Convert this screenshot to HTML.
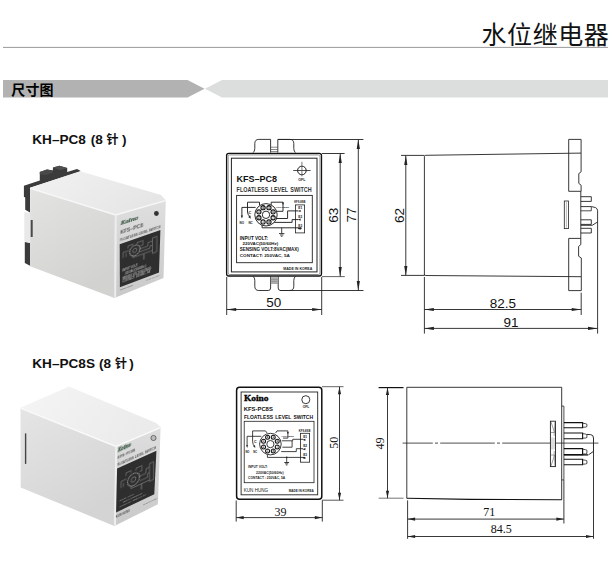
<!DOCTYPE html>
<html lang="zh-CN"><head><meta charset="utf-8"><title>水位继电器 尺寸图</title>
<style>
html,body{margin:0;padding:0;background:#fff;}
body{width:613px;height:562px;overflow:hidden;position:relative;font-family:"Liberation Sans","Noto Sans CJK SC",sans-serif;}
svg{position:absolute;left:0;top:0;display:block;}
</style></head><body>
<svg width="613" height="562" viewBox="0 0 613 562">
<defs>
<filter id="soft" x="-5%" y="-5%" width="110%" height="110%"><feGaussianBlur stdDeviation="0.45"/></filter>
<filter id="soft2" x="-5%" y="-5%" width="110%" height="110%"><feGaussianBlur stdDeviation="0.3"/></filter>
<linearGradient id="gSide1" x1="0" y1="0" x2="0.5" y2="1"><stop offset="0" stop-color="#e3e3e2"/><stop offset="1" stop-color="#d2d2d1"/></linearGradient>
<linearGradient id="gTop1" x1="0" y1="0" x2="1" y2="0.4"><stop offset="0" stop-color="#f2f2f2"/><stop offset="1" stop-color="#e6e6e6"/></linearGradient>
<linearGradient id="gFront1" x1="0" y1="0" x2="0" y2="1"><stop offset="0" stop-color="#dfdfdf"/><stop offset="1" stop-color="#c9c9c9"/></linearGradient>
<linearGradient id="gSide2" x1="0" y1="0" x2="0.5" y2="1"><stop offset="0" stop-color="#e5e5e5"/><stop offset="1" stop-color="#d4d4d4"/></linearGradient>
<linearGradient id="gTop2" x1="0" y1="0" x2="1" y2="0.4"><stop offset="0" stop-color="#f5f5f5"/><stop offset="1" stop-color="#ebebeb"/></linearGradient>
<linearGradient id="gFront2" x1="0" y1="0" x2="0" y2="1"><stop offset="0" stop-color="#dedede"/><stop offset="1" stop-color="#c9c9c9"/></linearGradient>
</defs>

<text x="609.3" y="44.2" font-size="25" text-anchor="end" font-weight="normal" font-family="'Liberation Sans', 'Noto Sans CJK SC', sans-serif" fill="#111" letter-spacing="0.55">水位继电器</text>
<line x1="3" y1="47.4" x2="608" y2="47.4" stroke="#9a9a9a" stroke-width="1" />
<polygon points="3,80 187.5,80 204.5,88.8 187.5,97.6 3,97.6" fill="#b2b2b2"/>
<polygon points="205,88.8 222,80 608,80 608,97.6 222,97.6" fill="#dcdddd"/>
<text x="11.2" y="94.8" font-size="14" text-anchor="start" font-weight="bold" font-family="'Liberation Sans', 'Noto Sans CJK SC', sans-serif" fill="#000" letter-spacing="0.2">尺寸图</text>
<text x="32.3" y="143.8" font-size="13.6" text-anchor="start" font-weight="bold" font-family="'Liberation Sans', 'Noto Sans CJK SC', sans-serif" fill="#111" >KH–PC8<tspan dx="1"> (8</tspan><tspan dx="3.8" font-size="12">针</tspan><tspan dx="3.4">)</tspan></text>
<text x="32.3" y="368" font-size="13.6" text-anchor="start" font-weight="bold" font-family="'Liberation Sans', 'Noto Sans CJK SC', sans-serif" fill="#111" >KH–PC8S<tspan dx="0.2"> (8</tspan><tspan dx="4" font-size="12">针</tspan><tspan dx="2.2">)</tspan></text>
<g filter="url(#soft)">
<polygon points="23.9,185.7 39.8,180.5 39.8,172 47,169.6 52.9,170.4 52.9,167.4 59.4,165.7 67.2,168 67.2,172 77,169.1 80.3,170.7 80.3,171.6 30,187.8 30,212.4 25.2,209.8 25.2,197.4 23.9,196.8" fill="#3b3b3b"/>
<polygon points="39.8,172 47,169.6 52.9,170.4 52.9,172.6 46,175 39.8,174.4" fill="#4a4a4a"/>
<polygon points="52.9,167.4 59.4,165.7 67.2,168 60.5,170.3" fill="#505050"/>
<polygon points="24.8,241.9 30.1,243 30.1,265.8 24.8,263" fill="#3b3b3b"/>
<polygon points="24.3,212 30.1,213 30.1,243 24.3,241.5" fill="#e9e9e9"/>
<polygon points="30,187.8 80,171.2 161,195 165.8,200.3 115,214.6" fill="url(#gTop1)"/>
<polygon points="30.1,188 115,214.6 114.4,298 30.1,266.3" fill="url(#gSide1)"/>
<polygon points="115,214.6 165.8,200.3 163.5,278 114.4,298" fill="url(#gFront1)"/>
<polyline points="30.1,188.3 115.6,215 165.6,200.7" fill="none" stroke="#f7f7f7" stroke-width="1.4"/>
<line x1="115.8" y1="215" x2="115.2" y2="297.6" stroke="#ececec" stroke-width="2" />
<rect x="30.7" y="220" width="2" height="17" fill="#4a4a4a"/>
<polygon points="119.7,244.2 160.4,230 159,272.6 119.9,287.3" fill="#2e2e2e"/>
<circle cx="156.4" cy="213.5" r="2.4" fill="#333"/>
</g>
<g transform="matrix(1,-0.33,0,1,0,0)" filter="url(#soft2)">
<text x="120.6" y="265.2" font-size="6.6" text-anchor="start" font-weight="bold" font-family="'Liberation Serif', serif" fill="#3f5a48" font-style="italic" stroke="#3f5a48" stroke-width="0.25" textLength="17.5" lengthAdjust="spacingAndGlyphs">Koino</text>
<text x="120.4" y="273.7" font-size="5" text-anchor="start" font-weight="bold" font-family="'Liberation Sans', sans-serif" fill="#555" textLength="22.6" lengthAdjust="spacingAndGlyphs">KFS–PC8</text>
<text x="120.1" y="281.5" font-size="3.3" text-anchor="start" font-weight="bold" font-family="'Liberation Sans', sans-serif" fill="#555" textLength="40.5" lengthAdjust="spacingAndGlyphs">FLOATLESS LEVEL SWITCH</text>
</g>
<g transform="matrix(1,-0.37,0,1,0,0)" filter="url(#soft2)">
<text x="122.3" y="317.5" font-size="2.6" text-anchor="start" font-weight="bold" font-family="'Liberation Sans', sans-serif" fill="#a8a8a8" >INPUT VOLT:</text>
<text x="125" y="321.1" font-size="2.6" text-anchor="start" font-weight="bold" font-family="'Liberation Sans', sans-serif" fill="#a8a8a8" >220VAC(50/60Hz)</text>
<text x="122.3" y="324.7" font-size="2.6" text-anchor="start" font-weight="bold" font-family="'Liberation Sans', sans-serif" fill="#a8a8a8" textLength="29" lengthAdjust="spacingAndGlyphs">SENSING VOLT:8VAC(MAX)</text>
<text x="122.3" y="328.3" font-size="2.6" text-anchor="start" font-weight="bold" font-family="'Liberation Sans', sans-serif" fill="#a8a8a8" >CONTACT: 250VAC, 5A</text>
<text x="146.4" y="334.8" font-size="1.7" text-anchor="start" font-weight="bold" font-family="'Liberation Sans', sans-serif" fill="#777" >MADE IN KOREA</text>
<text x="120.3" y="335.1" font-size="2.4" text-anchor="start" font-weight="bold" font-family="'Liberation Sans', sans-serif" fill="#555" >KUN HUNG</text>
<circle cx="134.8" cy="300.3" r="5.1" fill="none" stroke="#a5a5a5" stroke-width="1" stroke-dasharray="1.3,0.7"/>
<circle cx="134.8" cy="300.3" r="2" fill="none" stroke="#999" stroke-width="0.6"/>
<polyline points="123,303.5 123,298.0 129,298.2" fill="none" stroke="#999" stroke-width="0.5"/>
<polyline points="126,303.6 126,299.6" fill="none" stroke="#999" stroke-width="0.5"/>
<polyline points="128,295.9 128,293.4 133,293.4 133,294.8" fill="none" stroke="#999" stroke-width="0.5"/>
<polyline points="137,295.2 137,293.3 143,293.4 143,297.9 140,297.8" fill="none" stroke="#999" stroke-width="0.5"/>
<polyline points="140,300.8 148,300.8 148,297.3 152.4,297.4" fill="none" stroke="#999" stroke-width="0.5"/>
<polyline points="139.5,303.6 150,303.7 150,301.5 152.4,301.6" fill="none" stroke="#999" stroke-width="0.5"/>
<polyline points="133,304.7 133,306.8 152.4,306.9" fill="none" stroke="#999" stroke-width="0.5"/>
<polyline points="143.9,307.2 143.9,312.7" fill="none" stroke="#aaa" stroke-width="0.6"/>
<polyline points="152.4,294.4 156.8,294.4 156.8,309.8 152.4,309.8 152.4,294.4" fill="none" stroke="#999" stroke-width="0.5"/>
</g>
<g filter="url(#soft)">
<polygon points="20.5,407.8 69,386.5 156.2,423 160.6,427.1 115.6,445.9" fill="url(#gTop2)"/>
<polygon points="20.5,407.8 115.6,445.9 114.3,526 20.7,487.4" fill="url(#gSide2)"/>
<polygon points="115.6,445.9 160.6,427.1 157.9,504.3 114.3,526" fill="url(#gFront2)"/>
<polyline points="20.5,408.1 116,446.4 160.4,427.7" fill="none" stroke="#fafafa" stroke-width="1.4"/>
<line x1="116.2" y1="446.5" x2="115" y2="525.2" stroke="#eeeeee" stroke-width="2" />
<rect x="24.9" y="433.4" width="1.4" height="30.5" fill="#444"/>
<polygon points="117.1,468.5 156.4,450.7 154.3,494.3 116.1,512.4" fill="#2e2e2e"/>
<circle cx="153.5" cy="438" r="2.6" fill="#bbb" stroke="#555" stroke-width="0.8"/>
</g>
<g transform="matrix(1,-0.45,0,1,0,0)" filter="url(#soft2)">
<text x="117.9" y="505.4" font-size="5.2" text-anchor="start" font-weight="bold" font-family="'Liberation Serif', serif" fill="#3f5a48" font-style="italic" stroke="#3f5a48" stroke-width="0.25" textLength="13" lengthAdjust="spacingAndGlyphs">Koino</text>
<text x="117.6" y="512.4" font-size="4" text-anchor="start" font-weight="bold" font-family="'Liberation Sans', sans-serif" fill="#555" textLength="17.6" lengthAdjust="spacingAndGlyphs">KFS–PC8S</text>
<text x="117.3" y="519.1" font-size="3" text-anchor="start" font-weight="bold" font-family="'Liberation Sans', sans-serif" fill="#555" textLength="38.6" lengthAdjust="spacingAndGlyphs">FLOATLESS LEVEL SWITCH</text>
</g>
<g transform="matrix(1,-0.465,0,1,0,0)" filter="url(#soft2)">
<text x="119.5" y="556.6" font-size="2.4" text-anchor="start" font-weight="bold" font-family="'Liberation Sans', sans-serif" fill="#a0a0a0" >INPUT VOLT:</text>
<text x="123" y="560.0" font-size="2.4" text-anchor="start" font-weight="bold" font-family="'Liberation Sans', sans-serif" fill="#a0a0a0" >220VAC(50/60Hz)</text>
<text x="119.5" y="563.4" font-size="2.4" text-anchor="start" font-weight="bold" font-family="'Liberation Sans', sans-serif" fill="#a0a0a0" >CONTACT : 250VAC, 5A</text>
<text x="143.2" y="572.2" font-size="1.8" text-anchor="start" font-weight="bold" font-family="'Liberation Sans', sans-serif" fill="#666" >MADE IN KOREA</text>
<text x="115.9" y="572.2" font-size="2.6" text-anchor="start" font-weight="bold" font-family="'Liberation Sans', sans-serif" fill="#555" >KUN HUNG</text>
<circle cx="133.5" cy="541.6" r="6" fill="none" stroke="#a5a5a5" stroke-width="1" stroke-dasharray="1.3,0.7"/>
<circle cx="133.5" cy="541.6" r="2.4" fill="none" stroke="#999" stroke-width="0.6"/>
<polyline points="121,544.3 121,537.8 126.5,537.8" fill="none" stroke="#999" stroke-width="0.5"/>
<polyline points="123.5,544.4 123.5,540.4" fill="none" stroke="#999" stroke-width="0.5"/>
<polyline points="126,534.6 126,531.6 131,531.6 131,533.5" fill="none" stroke="#999" stroke-width="0.5"/>
<polyline points="136,533.7 136,531.6 142,531.6 142,536.5 139.5,536.5" fill="none" stroke="#999" stroke-width="0.5"/>
<polyline points="140,541.1 146,541.1 146,536.7 149.5,536.7" fill="none" stroke="#999" stroke-width="0.5"/>
<polyline points="139.5,545.9 147.5,545.9 147.5,542.1 149.5,542.1" fill="none" stroke="#999" stroke-width="0.5"/>
<polyline points="131,547.4 131,549.5 149.5,549.5" fill="none" stroke="#999" stroke-width="0.5"/>
<polyline points="141.5,549.5 141.5,555.3" fill="none" stroke="#aaa" stroke-width="0.6"/>
<polyline points="149.5,533.1 153.6,533.1 153.6,550.9 149.5,550.9 149.5,533.1" fill="none" stroke="#999" stroke-width="0.5"/>
</g>
<g id="d1">
<path d="M253.2,152.6 Q254.7,151.4 254.8,148.5 L254.8,143.6 Q254.8,139.4 258.8,139.4 L270.6,139.4 L270.6,152.6" fill="none" stroke="#222" stroke-width="0.9"/>
<path d="M277.8,152.6 L277.8,139.4 L289.8,139.4 Q293.8,139.4 293.8,143.6 L293.8,148.5 Q293.9,151.4 295.4,152.6" fill="none" stroke="#222" stroke-width="0.9"/>
<line x1="270.6" y1="147.2" x2="277.8" y2="147.2" stroke="#555" stroke-width="0.7" />
<line x1="270.6" y1="149.5" x2="277.8" y2="149.5" stroke="#555" stroke-width="0.7" />
<line x1="270.6" y1="151.6" x2="277.8" y2="151.6" stroke="#555" stroke-width="0.7" />
<line x1="278" y1="139.5" x2="363.4" y2="139.5" stroke="#222" stroke-width="0.9" />
<path d="M253.2,276.5 Q254.7,277.6 254.8,280.4 L254.8,286.2 Q254.8,290.5 258.8,290.5 L268.2,290.5 Q270.6,290.5 270.6,288 L270.6,276.5" fill="none" stroke="#222" stroke-width="0.9"/>
<path d="M278.2,276.5 L278.2,288 Q278.2,290.5 280.6,290.5 L289.8,290.5 Q293.8,290.5 293.8,286.2 L293.8,280.4 Q293.9,277.6 295.4,276.5" fill="none" stroke="#222" stroke-width="0.9"/>
<rect x="270.9" y="277" width="7" height="6.5" fill="#b5b5b5"/>
<line x1="270.6" y1="279.3" x2="278.2" y2="279.3" stroke="#777" stroke-width="0.6" />
<line x1="270.6" y1="281.3" x2="278.2" y2="281.3" stroke="#777" stroke-width="0.6" />
<line x1="270.6" y1="283.3" x2="278.2" y2="283.3" stroke="#777" stroke-width="0.6" />
<line x1="280" y1="290.5" x2="363.5" y2="290.5" stroke="#222" stroke-width="0.9" />
<rect x="226.6" y="153.4" width="94.9" height="122.6" rx="2.2" ry="2.2" fill="#fff" stroke="#111" stroke-width="1.3"/>
<rect x="228.1" y="154.9" width="91.9" height="119.6" rx="1.5" ry="1.5" fill="none" stroke="#8a8a8a" stroke-width="1"/>
<rect x="231.4" y="158.2" width="85.6" height="113.7" fill="none" stroke="#222" stroke-width="1"/>
<circle cx="301.9" cy="170.5" r="4.3" fill="none" stroke="#111" stroke-width="0.95"/>
<line x1="293.2" y1="170.5" x2="310.6" y2="170.5" stroke="#222" stroke-width="0.8" />
<line x1="301.9" y1="161.8" x2="301.9" y2="176.4" stroke="#555" stroke-width="0.8" />
<text x="301.9" y="181.1" font-size="3.6" text-anchor="middle" font-weight="bold" font-family="'Liberation Sans', sans-serif" fill="#222" >OFL</text>
<text x="236.4" y="182" font-size="9.4" text-anchor="start" font-weight="bold" font-family="'Liberation Sans', sans-serif" fill="#111" textLength="40.5" lengthAdjust="spacingAndGlyphs">KFS–PC8</text>
<text x="236.6" y="192.3" font-size="6.4" text-anchor="start" font-weight="bold" font-family="'Liberation Sans', sans-serif" fill="#333" textLength="75" lengthAdjust="spacingAndGlyphs" word-spacing="1">FLOATLESS LEVEL SWITCH</text>
<rect x="236.6" y="195.4" width="75.7" height="67.3" fill="none" stroke="#222" stroke-width="0.9"/>
<polyline points="247.5,212 247.5,202.2 259.5,202.2 259.5,205.6" fill="none" stroke="#222" stroke-width="0.95"/>
<polyline points="271.2,205.6 271.2,202.2 283,202.2 283,211.3 276.5,211.3" fill="none" stroke="#222" stroke-width="0.95"/>
<polyline points="255.6,207.4 241.9,207.4 241.9,216.5" fill="none" stroke="#222" stroke-width="0.95"/>
<path d="M247.5,212 Q247.8,215 250,216.8" fill="none" stroke="#222" stroke-width="0.95"/>
<polygon points="241.9,218.6 240.8,215.6 243.0,215.6" fill="#222"/>
<polygon points="250.8,218.8 248.2,216.9 250.3,215.6" fill="#222"/>
<text x="249.9" y="213.8" font-size="3.8" text-anchor="middle" font-weight="bold" font-family="'Liberation Sans', sans-serif" fill="#111" >C</text>
<text x="241.8" y="223.6" font-size="3" text-anchor="middle" font-weight="bold" font-family="'Liberation Sans', sans-serif" fill="#111" >NO</text>
<text x="250.6" y="223.6" font-size="3" text-anchor="middle" font-weight="bold" font-family="'Liberation Sans', sans-serif" fill="#111" >NC</text>
<text x="282.3" y="208.2" font-size="2.5" text-anchor="middle" font-weight="bold" font-family="'Liberation Sans', sans-serif" fill="#111" >AC/POWER</text>
<polygon points="283.0,205.0 282.0,202.6 284.0,202.6" fill="#222"/>
<rect x="295.5" y="204.9" width="9.1" height="28" fill="none" stroke="#222" stroke-width="0.8"/>
<text x="299.8" y="202.9" font-size="2.6" text-anchor="middle" font-weight="bold" font-family="'Liberation Sans', sans-serif" fill="#111" >KFS-8SB</text>
<text x="300.3" y="209.20000000000002" font-size="3.2" text-anchor="middle" font-weight="bold" font-family="'Liberation Sans', sans-serif" fill="#111" >E1</text>
<polygon points="297.6,211.0 300.6,209.9 300.6,212.1" fill="#222"/>
<text x="300.3" y="217.8" font-size="3.2" text-anchor="middle" font-weight="bold" font-family="'Liberation Sans', sans-serif" fill="#111" >E2</text>
<polygon points="297.6,219.6 300.6,218.5 300.6,220.7" fill="#222"/>
<text x="300.3" y="226.8" font-size="3.2" text-anchor="middle" font-weight="bold" font-family="'Liberation Sans', sans-serif" fill="#111" >E3</text>
<polygon points="297.6,228.6 300.6,227.5 300.6,229.7" fill="#222"/>
<polyline points="275.2,218.5 287.6,218.5 287.6,210.9 298,210.9" fill="none" stroke="#222" stroke-width="0.95"/>
<polyline points="273.9,222.4 292.1,222.4 292.1,219.6 298,219.6" fill="none" stroke="#222" stroke-width="0.95"/>
<polyline points="262.1,224.4 262.1,227.8 301.3,227.8 301.3,228.6 298,228.6" fill="none" stroke="#222" stroke-width="0.95"/>
<line x1="281.7" y1="227.8" x2="281.7" y2="233.6" stroke="#222" stroke-width="0.85" />
<line x1="279" y1="233.6" x2="284.4" y2="233.6" stroke="#222" stroke-width="0.9" />
<line x1="280" y1="235" x2="283.4" y2="235" stroke="#222" stroke-width="0.8" />
<line x1="280.9" y1="236.3" x2="282.5" y2="236.3" stroke="#222" stroke-width="0.8" />
<circle cx="266" cy="214.8" r="11.2" fill="#fff" stroke="#222" stroke-width="0.95"/>
<circle cx="266" cy="214.8" r="3.7" fill="none" stroke="#222" stroke-width="0.95"/>
<circle cx="273.11" cy="217.75" r="2.1" fill="none" stroke="#111" stroke-width="1.09"/>
<circle cx="268.95" cy="221.91" r="2.1" fill="none" stroke="#111" stroke-width="1.09"/>
<circle cx="263.05" cy="221.91" r="2.1" fill="none" stroke="#111" stroke-width="1.09"/>
<circle cx="258.89" cy="217.75" r="2.1" fill="none" stroke="#111" stroke-width="1.09"/>
<circle cx="258.89" cy="211.85" r="2.1" fill="none" stroke="#111" stroke-width="1.09"/>
<circle cx="263.05" cy="207.69" r="2.1" fill="none" stroke="#111" stroke-width="1.09"/>
<circle cx="268.95" cy="207.69" r="2.1" fill="none" stroke="#111" stroke-width="1.09"/>
<circle cx="273.11" cy="211.85" r="2.1" fill="none" stroke="#111" stroke-width="1.09"/>
<text x="273.11" y="218.75" font-size="2.8" text-anchor="middle" font-weight="bold" font-family="'Liberation Sans', sans-serif" fill="#111" >7</text>
<text x="268.95" y="222.91" font-size="2.8" text-anchor="middle" font-weight="bold" font-family="'Liberation Sans', sans-serif" fill="#111" >8</text>
<text x="263.05" y="222.91" font-size="2.8" text-anchor="middle" font-weight="bold" font-family="'Liberation Sans', sans-serif" fill="#111" >1</text>
<text x="258.89" y="218.75" font-size="2.8" text-anchor="middle" font-weight="bold" font-family="'Liberation Sans', sans-serif" fill="#111" >2</text>
<text x="258.89" y="212.85" font-size="2.8" text-anchor="middle" font-weight="bold" font-family="'Liberation Sans', sans-serif" fill="#111" >3</text>
<text x="263.05" y="208.69" font-size="2.8" text-anchor="middle" font-weight="bold" font-family="'Liberation Sans', sans-serif" fill="#111" >4</text>
<text x="268.95" y="208.69" font-size="2.8" text-anchor="middle" font-weight="bold" font-family="'Liberation Sans', sans-serif" fill="#111" >5</text>
<text x="273.11" y="212.85" font-size="2.8" text-anchor="middle" font-weight="bold" font-family="'Liberation Sans', sans-serif" fill="#111" >6</text>
<text x="239.8" y="240.4" font-size="4.6" text-anchor="start" font-weight="bold" font-family="'Liberation Sans', sans-serif" fill="#111" textLength="28.3" lengthAdjust="spacingAndGlyphs">INPUT VOLT:</text>
<text x="242.6" y="245" font-size="4.3" text-anchor="start" font-weight="bold" font-family="'Liberation Sans', sans-serif" fill="#111" textLength="35.6" lengthAdjust="spacingAndGlyphs">220VAC(50/60Hz)</text>
<text x="239.8" y="250.9" font-size="4.5" text-anchor="start" font-weight="bold" font-family="'Liberation Sans', sans-serif" fill="#111" textLength="59" lengthAdjust="spacingAndGlyphs">SENSING VOLT:8VAC(MAX)</text>
<text x="239.8" y="257.4" font-size="4.4" text-anchor="start" font-weight="bold" font-family="'Liberation Sans', sans-serif" fill="#222" textLength="50" lengthAdjust="spacingAndGlyphs">CONTACT: 250VAC, 5A</text>
<text x="283.3" y="270.3" font-size="3.7" text-anchor="start" font-weight="bold" font-family="'Liberation Sans', sans-serif" fill="#222" textLength="29" lengthAdjust="spacingAndGlyphs">MADE IN KOREA</text>
<line x1="322" y1="153.5" x2="344.6" y2="153.5" stroke="#222" stroke-width="0.9" />
<line x1="322" y1="276.6" x2="344.8" y2="276.6" stroke="#555" stroke-width="0.9" />
<line x1="340.2" y1="153.5" x2="340.2" y2="276.6" stroke="#222" stroke-width="0.9" />
<polygon points="340.2,153.5 338.6,163.0 341.8,163.0" fill="#222"/>
<polygon points="340.2,276.6 338.6,267.1 341.8,267.1" fill="#222"/>
<line x1="358.3" y1="139.6" x2="358.3" y2="290.5" stroke="#222" stroke-width="0.9" />
<polygon points="358.3,139.6 356.7,149.1 359.9,149.1" fill="#222"/>
<polygon points="358.3,290.5 356.7,281.0 359.9,281.0" fill="#222"/>
<text transform="translate(338.4,215.3) rotate(-90)" font-size="13.5" text-anchor="middle" font-family="'Liberation Sans', sans-serif" fill="#111">63</text>
<text transform="translate(356.2,215) rotate(-90)" font-size="13.5" text-anchor="middle" font-family="'Liberation Sans', sans-serif" fill="#111">77</text>
<line x1="226.7" y1="277" x2="226.7" y2="315" stroke="#222" stroke-width="0.9" />
<line x1="321.7" y1="277" x2="321.7" y2="315" stroke="#222" stroke-width="0.9" />
<line x1="226.7" y1="309.5" x2="321.7" y2="309.5" stroke="#222" stroke-width="0.9" />
<polygon points="226.7,309.5 236.2,307.9 236.2,311.1" fill="#222"/>
<polygon points="321.7,309.5 312.2,307.9 312.2,311.1" fill="#222"/>
<text x="273.8" y="307.4" font-size="13.5" text-anchor="middle" font-weight="normal" font-family="'Liberation Sans', sans-serif" fill="#111" >50</text>
</g>
<g id="d2">
<line x1="401" y1="155.4" x2="424.4" y2="155.4" stroke="#222" stroke-width="0.9" />
<line x1="401" y1="275.4" x2="424.4" y2="275.4" stroke="#222" stroke-width="0.9" />
<line x1="405.8" y1="155.4" x2="405.8" y2="275.4" stroke="#222" stroke-width="0.9" />
<polygon points="405.8,155.4 404.2,164.9 407.4,164.9" fill="#222"/>
<polygon points="405.8,275.4 404.2,265.9 407.4,265.9" fill="#222"/>
<text transform="translate(403.5,215.6) rotate(-90)" font-size="13.5" text-anchor="middle" font-family="'Liberation Sans', sans-serif" fill="#111">62</text>
<path d="M424.4,275.4 L424.4,156.6 Q424.4,155.4 425.8,155.3 L581,153.1" fill="none" stroke="#222" stroke-width="0.9"/>
<path d="M424.4,274.4 Q424.4,275.5 425.8,275.5 L581,276.7" fill="none" stroke="#222" stroke-width="0.9"/>
<path d="M568.7,191.3 L568.7,139.4 L581.1,139.4 L581.1,171.8 L578.8,173.6 L578.8,183.4 L581.1,185.2 L581.1,191.3 L568.7,191.3" fill="none" stroke="#222" stroke-width="0.9"/>
<path d="M580.8,238.4 L568.7,238.4 L568.7,290.6 L581.3,290.6 L581.3,258 L578.6,256.2 L578.6,246.4 L580.8,244.6 L580.8,191.3" fill="none" stroke="#222" stroke-width="0.9"/>
<rect x="564.3" y="201" width="4.2" height="27.6" fill="#fff" stroke="#222" stroke-width="0.8"/>
<line x1="566.4" y1="202" x2="566.4" y2="227.6" stroke="#777" stroke-width="0.5" />
<path d="M580.8,196.7 L591.3,196.7 L591.3,201.4 L580.8,201.4" fill="none" stroke="#222" stroke-width="0.9"/>
<path d="M580.8,219.8 L591.3,219.8 L591.3,224.4 L580.8,224.4" fill="none" stroke="#222" stroke-width="0.9"/>
<path d="M580.8,228.3 L591.3,228.3 L591.3,233 L580.8,233" fill="none" stroke="#222" stroke-width="0.9"/>
<path d="M580.8,206.6 L591.6,206.6 L595.6,207.6 Q597.6,208.6 597.6,210.8 L597.6,222 L592.2,225.3 L580.8,225.3" fill="none" stroke="#222" stroke-width="0.9"/>
<path d="M580.8,210.8 L591.3,210.8 L591.3,206.7" fill="none" stroke="#222" stroke-width="0.8"/>
<line x1="597.6" y1="222" x2="597.6" y2="333.6" stroke="#222" stroke-width="0.9" />
<line x1="424.4" y1="277" x2="424.4" y2="333.6" stroke="#222" stroke-width="0.9" />
<line x1="581.2" y1="292.7" x2="581.2" y2="315" stroke="#222" stroke-width="0.9" />
<line x1="424.4" y1="309.5" x2="581.2" y2="309.5" stroke="#222" stroke-width="0.9" />
<polygon points="424.4,309.5 433.9,307.9 433.9,311.1" fill="#222"/>
<polygon points="581.2,309.5 571.7,307.9 571.7,311.1" fill="#222"/>
<line x1="424.4" y1="328.4" x2="597.5" y2="328.4" stroke="#222" stroke-width="0.9" />
<polygon points="424.4,328.4 433.9,326.8 433.9,330.0" fill="#222"/>
<polygon points="597.5,328.4 588.0,326.8 588.0,330.0" fill="#222"/>
<text x="502.8" y="307.5" font-size="13.5" text-anchor="middle" font-weight="normal" font-family="'Liberation Sans', sans-serif" fill="#111" >82.5</text>
<text x="511" y="326.9" font-size="13.5" text-anchor="middle" font-weight="normal" font-family="'Liberation Sans', sans-serif" fill="#111" >91</text>
</g>
<g id="d3">
<rect x="236.6" y="387.2" width="85.2" height="112" rx="3" ry="3" fill="#fff" stroke="#111" stroke-width="1.5"/>
<rect x="241.1" y="392" width="76.6" height="102.8" fill="none" stroke="#222" stroke-width="0.9"/>
<text x="244" y="401.4" font-size="8.6" text-anchor="start" font-weight="bold" font-family="'Liberation Serif', serif" fill="#000" textLength="24.5" lengthAdjust="spacingAndGlyphs" stroke="#000" stroke-width="0.35">Koino</text>
<circle cx="305.8" cy="399.7" r="4" fill="none" stroke="#222" stroke-width="0.9"/>
<text x="306" y="407.8" font-size="3.3" text-anchor="middle" font-weight="bold" font-family="'Liberation Sans', sans-serif" fill="#222" >OFL</text>
<text x="243.8" y="410.5" font-size="6" text-anchor="start" font-weight="bold" font-family="'Liberation Sans', sans-serif" fill="#111" textLength="29" lengthAdjust="spacingAndGlyphs">KFS-PC8S</text>
<text x="244" y="418.6" font-size="5" text-anchor="start" font-weight="bold" font-family="'Liberation Sans', sans-serif" fill="#111" textLength="69" lengthAdjust="spacingAndGlyphs" word-spacing="1">FLOATLESS LEVEL SWITCH</text>
<rect x="244.2" y="421.3" width="69.8" height="61.4" fill="none" stroke="#222" stroke-width="0.8"/>
<polyline points="252.6,441.7 252.6,430.9 265.5,430.9 267.1,433.0" fill="none" stroke="#222" stroke-width="0.85"/>
<polyline points="275.6,433.0 277.0,430.9 287.9,430.9 287.9,438.1 283.0,438.1" fill="none" stroke="#222" stroke-width="0.85"/>
<polyline points="261.3,436.3 247.1,436.3 247.1,446.0" fill="none" stroke="#222" stroke-width="0.85"/>
<path d="M252.6,441.7 Q252.9,444.7 254.3,446.3" fill="none" stroke="#222" stroke-width="0.85"/>
<polygon points="247.1,448.0 246.1,445.2 248.1,445.2" fill="#222"/>
<polygon points="255.3,448.0 253.2,446.3 255.0,445.1" fill="#222"/>
<text x="255.3" y="443.3" font-size="3.6" text-anchor="middle" font-weight="bold" font-family="'Liberation Sans', sans-serif" fill="#111" >C</text>
<text x="247.4" y="452.8" font-size="2.7" text-anchor="middle" font-weight="bold" font-family="'Liberation Sans', sans-serif" fill="#111" >NO</text>
<text x="255.3" y="452.8" font-size="2.7" text-anchor="middle" font-weight="bold" font-family="'Liberation Sans', sans-serif" fill="#111" >NC</text>
<text x="287.6" y="436.7" font-size="2.3" text-anchor="middle" font-weight="bold" font-family="'Liberation Sans', sans-serif" fill="#111" >AC/POWER</text>
<polygon points="287.9,434.2 287.0,431.9 288.8,431.9" fill="#222"/>
<rect x="300.5" y="433.3" width="9.1" height="28.9" fill="none" stroke="#222" stroke-width="0.8"/>
<text x="304.6" y="431.8" font-size="2.7" text-anchor="middle" font-weight="bold" font-family="'Liberation Sans', sans-serif" fill="#111" >KFS-8SB</text>
<text x="305.2" y="438.0" font-size="3.2" text-anchor="middle" font-weight="bold" font-family="'Liberation Sans', sans-serif" fill="#111" >E1</text>
<polygon points="302.4,439.8 305.4,438.7 305.4,440.9" fill="#222"/>
<text x="305.2" y="447.40000000000003" font-size="3.2" text-anchor="middle" font-weight="bold" font-family="'Liberation Sans', sans-serif" fill="#111" >E2</text>
<polygon points="302.4,449.20000000000005 305.4,448.1 305.4,450.3" fill="#222"/>
<text x="305.2" y="456.2" font-size="3.2" text-anchor="middle" font-weight="bold" font-family="'Liberation Sans', sans-serif" fill="#111" >E3</text>
<polygon points="302.4,458.0 305.4,456.9 305.4,459.09999999999997" fill="#222"/>
<polyline points="281.8,440.8 292.7,440.8 292.7,439.3 303.0,439.3" fill="none" stroke="#222" stroke-width="0.85"/>
<polyline points="281.2,451.6 296.3,451.6 296.3,448.7 303.0,448.7" fill="none" stroke="#222" stroke-width="0.85"/>
<polyline points="282.4,447.2 292.1,447.2 292.1,440.8" fill="none" stroke="#222" stroke-width="0.85"/>
<polyline points="267.4,455.0 267.4,457.4 304.8,457.4 304.8,457.7 303.0,457.7" fill="none" stroke="#222" stroke-width="0.85"/>
<line x1="286.7" y1="457.4" x2="286.7" y2="462.5" stroke="#222" stroke-width="0.8" />
<circle cx="286.7" cy="457.4" r="0.8" fill="#222"/>
<line x1="284.3" y1="462.5" x2="289.1" y2="462.5" stroke="#222" stroke-width="0.9" />
<line x1="285.1" y1="463.8" x2="288.2" y2="463.8" stroke="#222" stroke-width="0.8" />
<line x1="285.9" y1="465.0" x2="287.4" y2="465.0" stroke="#222" stroke-width="0.8" />
<circle cx="270.4" cy="444.1" r="10.8" fill="#fff" stroke="#222" stroke-width="0.9"/>
<circle cx="270.4" cy="444.1" r="3.6" fill="none" stroke="#222" stroke-width="0.9"/>
<circle cx="277.24" cy="446.93" r="2.0" fill="none" stroke="#111" stroke-width="1.03"/>
<circle cx="273.23" cy="450.94" r="2.0" fill="none" stroke="#111" stroke-width="1.03"/>
<circle cx="267.57" cy="450.94" r="2.0" fill="none" stroke="#111" stroke-width="1.03"/>
<circle cx="263.56" cy="446.93" r="2.0" fill="none" stroke="#111" stroke-width="1.03"/>
<circle cx="263.56" cy="441.27" r="2.0" fill="none" stroke="#111" stroke-width="1.03"/>
<circle cx="267.57" cy="437.26" r="2.0" fill="none" stroke="#111" stroke-width="1.03"/>
<circle cx="273.23" cy="437.26" r="2.0" fill="none" stroke="#111" stroke-width="1.03"/>
<circle cx="277.24" cy="441.27" r="2.0" fill="none" stroke="#111" stroke-width="1.03"/>
<text x="277.24" y="447.83" font-size="2.6" text-anchor="middle" font-weight="bold" font-family="'Liberation Sans', sans-serif" fill="#111" >7</text>
<text x="273.23" y="451.84" font-size="2.6" text-anchor="middle" font-weight="bold" font-family="'Liberation Sans', sans-serif" fill="#111" >8</text>
<text x="267.57" y="451.84" font-size="2.6" text-anchor="middle" font-weight="bold" font-family="'Liberation Sans', sans-serif" fill="#111" >1</text>
<text x="263.56" y="447.83" font-size="2.6" text-anchor="middle" font-weight="bold" font-family="'Liberation Sans', sans-serif" fill="#111" >2</text>
<text x="263.56" y="442.17" font-size="2.6" text-anchor="middle" font-weight="bold" font-family="'Liberation Sans', sans-serif" fill="#111" >3</text>
<text x="267.57" y="438.16" font-size="2.6" text-anchor="middle" font-weight="bold" font-family="'Liberation Sans', sans-serif" fill="#111" >4</text>
<text x="273.23" y="438.16" font-size="2.6" text-anchor="middle" font-weight="bold" font-family="'Liberation Sans', sans-serif" fill="#111" >5</text>
<text x="277.24" y="442.17" font-size="2.6" text-anchor="middle" font-weight="bold" font-family="'Liberation Sans', sans-serif" fill="#111" >6</text>
<text x="248.1" y="467.9" font-size="3.4" text-anchor="start" font-weight="bold" font-family="'Liberation Sans', sans-serif" fill="#222" textLength="19.6" lengthAdjust="spacingAndGlyphs">INPUT VOLT:</text>
<text x="256.1" y="473.6" font-size="3.4" text-anchor="start" font-weight="bold" font-family="'Liberation Sans', sans-serif" fill="#222" textLength="27.6" lengthAdjust="spacingAndGlyphs">220VAC(50/60Hz)</text>
<text x="248.1" y="478.9" font-size="3.4" text-anchor="start" font-weight="bold" font-family="'Liberation Sans', sans-serif" fill="#222" textLength="37" lengthAdjust="spacingAndGlyphs">CONTACT : 250VAC, 5A</text>
<text x="243.7" y="492.3" font-size="4.6" text-anchor="start" font-weight="normal" font-family="'Liberation Sans', sans-serif" fill="#222" textLength="24.5" lengthAdjust="spacingAndGlyphs">KUN HUNG</text>
<text x="288.7" y="491.9" font-size="3.2" text-anchor="start" font-weight="bold" font-family="'Liberation Sans', sans-serif" fill="#222" textLength="25" lengthAdjust="spacingAndGlyphs">MADE IN KOREA</text>
<line x1="322" y1="386.7" x2="343.5" y2="386.7" stroke="#555" stroke-width="0.9" />
<line x1="322" y1="500.2" x2="343.5" y2="500.2" stroke="#444" stroke-width="0.9" />
<line x1="339.5" y1="386.7" x2="339.5" y2="500.2" stroke="#222" stroke-width="0.9" />
<polygon points="339.5,386.7 337.9,394.2 341.1,394.2" fill="#222"/>
<polygon points="339.5,500.2 337.9,492.7 341.1,492.7" fill="#222"/>
<text transform="translate(337.9,442.7) rotate(-90)" font-size="12.2" text-anchor="middle" font-family="'Liberation Serif', serif" fill="#111">50</text>
<line x1="236.2" y1="500.5" x2="236.2" y2="521.6" stroke="#222" stroke-width="0.9" />
<line x1="322.3" y1="500.5" x2="322.3" y2="521.6" stroke="#222" stroke-width="0.9" />
<line x1="236.2" y1="517.6" x2="322.3" y2="517.6" stroke="#222" stroke-width="0.9" />
<polygon points="236.2,517.6 243.7,516.0 243.7,519.2" fill="#222"/>
<polygon points="322.3,517.6 314.8,516.0 314.8,519.2" fill="#222"/>
<text x="280.4" y="516.3" font-size="12" text-anchor="middle" font-weight="normal" font-family="'Liberation Serif', serif" fill="#111" >39</text>
</g>
<g id="d4">
<line x1="378.6" y1="387.6" x2="403.5" y2="387.6" stroke="#111" stroke-width="1.2" />
<line x1="378.6" y1="498.2" x2="403.5" y2="498.2" stroke="#666" stroke-width="0.9" />
<line x1="387.5" y1="387.6" x2="387.5" y2="498.2" stroke="#222" stroke-width="0.9" />
<polygon points="387.5,387.6 385.9,395.1 389.1,395.1" fill="#222"/>
<polygon points="387.5,498.2 385.9,490.7 389.1,490.7" fill="#222"/>
<text transform="translate(384.2,443.5) rotate(-90)" font-size="12.2" text-anchor="middle" font-family="'Liberation Serif', serif" fill="#111">49</text>
<path d="M406.8,498.4 L406.8,387.3 L561.7,387.3 L561.7,499.8" fill="none" stroke="#222" stroke-width="0.9"/>
<path d="M406.8,498.3 L470,499.4 L561.7,499.8" fill="none" stroke="#111" stroke-width="1.1"/>
<path d="M402.6,443.1 L598.4,443.1" fill="none" stroke="#222" stroke-width="0.8" stroke-dasharray="30.2,2.2,3,2.2,54.6,2.2,3,2.2,200"/>
<path d="M561.7,406.1 L563.9,406.1 L563.9,479.9 L561.7,479.9" fill="none" stroke="#222" stroke-width="0.8"/>
<rect x="550.4" y="421.2" width="5.1" height="45.4" fill="#fff" stroke="#222" stroke-width="0.9"/>
<polyline points="551,422 554.6,432.5 551,432.5" fill="none" stroke="#444" stroke-width="0.5"/>
<polyline points="554.9,422 554.2,432.5 554.2,436" fill="none" stroke="#555" stroke-width="0.5"/>
<polyline points="552,437.5 552,449.5" fill="none" stroke="#777" stroke-width="0.5"/>
<polyline points="554,437.5 554,449.5" fill="none" stroke="#777" stroke-width="0.5"/>
<polyline points="551,466 554.6,455 551,455" fill="none" stroke="#444" stroke-width="0.5"/>
<polyline points="554.9,466 554.2,455 554.2,451" fill="none" stroke="#555" stroke-width="0.5"/>
<path d="M563.9,422.6 L582.6,422.6 L582.6,427.8 L563.9,427.8" fill="none" stroke="#111" stroke-width="1.1"/>
<path d="M582.6,423.20000000000005 L585.6,423.70000000000005 L586.9,424.20000000000005 L586.9,426.6 L585.6,427.1 L582.6,427.3" fill="none" stroke="#222" stroke-width="0.8"/>
<path d="M563.9,433 L582.6,433 L582.6,438.7 L563.9,438.7" fill="none" stroke="#111" stroke-width="1.1"/>
<path d="M582.6,433.6 L585.6,434.1 L586.9,434.6 L586.9,437.5 L585.6,438.0 L582.6,438.2" fill="none" stroke="#222" stroke-width="0.8"/>
<path d="M563.9,448.6 L582.6,448.6 L582.6,454.6 L563.9,454.6" fill="none" stroke="#111" stroke-width="1.2"/>
<path d="M582.6,449.20000000000005 L585.6,449.70000000000005 L586.9,450.20000000000005 L586.9,453.40000000000003 L585.6,453.90000000000003 L582.6,454.1" fill="none" stroke="#222" stroke-width="0.8"/>
<path d="M563.9,459.2 L582.6,459.2 L582.6,464.7 L563.9,464.7" fill="none" stroke="#111" stroke-width="1.1"/>
<path d="M582.6,459.8 L585.6,460.3 L586.9,460.8 L586.9,463.5 L585.6,464.0 L582.6,464.2" fill="none" stroke="#222" stroke-width="0.8"/>
<line x1="563.9" y1="454.9" x2="588" y2="454.9" stroke="#111" stroke-width="1.3" />
<path d="M586.9,434.4 L590.5,434.6 Q593.5,434.8 593.5,438 L593.5,451.4 L588.4,454.9" fill="none" stroke="#222" stroke-width="0.95"/>
<line x1="593.5" y1="451" x2="593.5" y2="538.8" stroke="#222" stroke-width="0.9" />
<line x1="407.6" y1="500.4" x2="407.6" y2="538.8" stroke="#222" stroke-width="0.9" />
<line x1="563.9" y1="480" x2="563.9" y2="523.5" stroke="#222" stroke-width="0.9" />
<line x1="407.6" y1="519.1" x2="563.9" y2="519.1" stroke="#222" stroke-width="0.9" />
<polygon points="407.6,519.1 415.1,517.5 415.1,520.7" fill="#222"/>
<polygon points="563.9,519.1 556.4,517.5 556.4,520.7" fill="#222"/>
<line x1="407.6" y1="536.5" x2="593.5" y2="536.5" stroke="#222" stroke-width="0.9" />
<polygon points="407.6,536.5 415.1,534.9 415.1,538.1" fill="#222"/>
<polygon points="593.5,536.5 586.0,534.9 586.0,538.1" fill="#222"/>
<text x="489.2" y="516" font-size="12" text-anchor="middle" font-weight="normal" font-family="'Liberation Serif', serif" fill="#111" >71</text>
<text x="501.2" y="532.8" font-size="12" text-anchor="middle" font-weight="normal" font-family="'Liberation Serif', serif" fill="#111" >84.5</text>
</g>
</svg>
</body></html>
